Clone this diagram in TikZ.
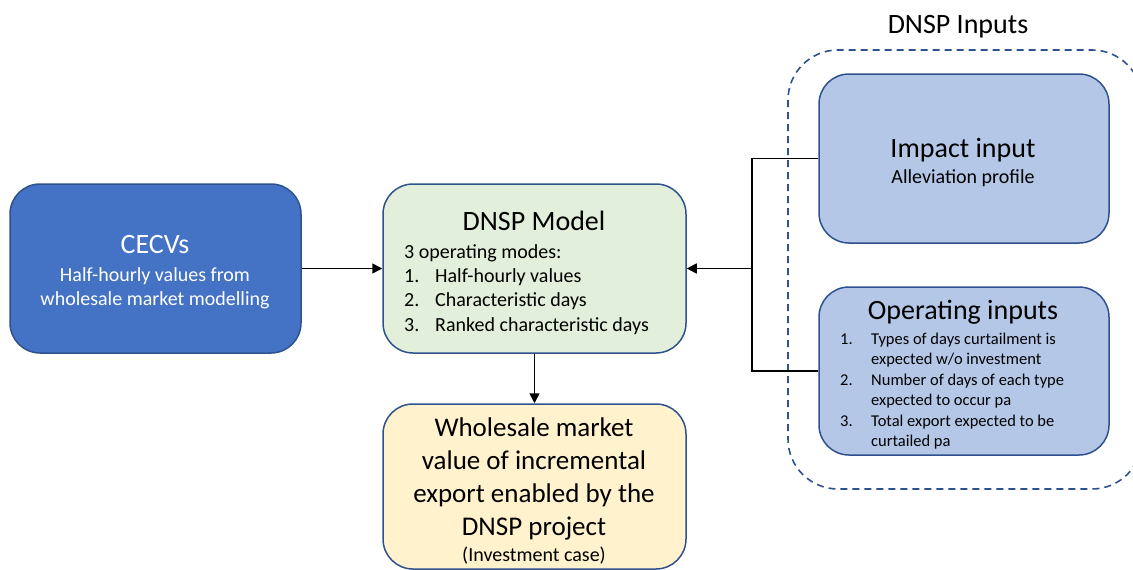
\documentclass[tikz,border=0pt]{standalone}
\usepackage{fontspec}
\setmainfont{Carlito}
\usetikzlibrary{arrows.meta}
\definecolor{bord}{HTML}{2F528F}
\definecolor{cecvfill}{HTML}{4472C4}
\definecolor{greenfill}{HTML}{E2EFDA}
\definecolor{yellowfill}{HTML}{FFF2CC}
\definecolor{lbluefill}{HTML}{B4C7E7}
\begin{document}
\begin{tikzpicture}[x=1pt,y=-1pt,
  box/.style={draw=bord, line width=1.5pt, rounded corners=30pt, inner sep=0pt},
  grp/.style={draw=bord, line width=1.6pt, dash pattern=on 7pt off 5pt, rounded corners=50pt},
  txt/.style={anchor=base, inner sep=0pt},
  ltxt/.style={anchor=base west, inner sep=0pt},
  big/.style={font=\fontsize{28}{34}\selectfont},
  mid/.style={font=\fontsize{20}{24}\selectfont},
  wbig/.style={font=\fontsize{27}{33}\selectfont},
  sml/.style={font=\fontsize{16.5}{20}\selectfont},
  conn/.style={line width=1.7pt, black},
  arr/.style={conn, -{Triangle[length=10pt,width=10pt]}}]
\useasboundingbox (0,0) rectangle (1133,570);

% group
\draw[grp] (788,50) rectangle (1142,489);
\node[txt, big] (grplabel) at (958,33) {DNSP Inputs};

% boxes
\node[box, fill=cecvfill, minimum width=291pt, minimum height=169pt] (cecv) at (155.5,268.5) {};
\node[box, fill=greenfill, minimum width=303pt, minimum height=169pt] (model) at (534.5,268.5) {};
\node[box, fill=yellowfill, minimum width=303pt, minimum height=165pt] (whole) at (534.5,486.5) {};
\node[box, fill=lbluefill, minimum width=290pt, minimum height=169pt] (impact) at (964,158.5) {};
\node[box, fill=lbluefill, minimum width=290pt, minimum height=168pt] (oper) at (964,371) {};

% connectors
\coordinate (j) at (752,268.5);
\draw[arr] (cecv.east) -- (model.west);
\draw[conn] (impact.west) -| (j);
\draw[conn] (oper.west) -| (j);
\draw[arr] (j) -- (model.east);
\draw[arr] (model.south) -- (whole.north);

% CECVs text
\node[txt, big, text=white] (c1) at (155,253) {CECVs};
\node[txt, mid, text=white] (c2) at (155,281) {Half-hourly values from};
\node[txt, mid, text=white] (c3) at (155,305) {wholesale market modelling};

% DNSP Model text
\node[txt, big] (m0) at (534,230) {DNSP Model};
\node[ltxt, mid] (m1) at (404,258) {3 operating modes:};
\node[ltxt, mid] (m2n) at (404,282) {1.};
\node[ltxt, mid] (m2) at (435,282) {Half-hourly values};
\node[ltxt, mid] (m3n) at (404,306.5) {2.};
\node[ltxt, mid] (m3) at (435,306.5) {Characteristic days};
\node[ltxt, mid] (m4n) at (404,331) {3.};
\node[ltxt, mid] (m4) at (435,331) {Ranked characteristic days};

% Wholesale text
\node[txt, wbig] (w1) at (534,436) {Wholesale market};
\node[txt, wbig] (w2) at (534,469.5) {value of incremental};
\node[txt, wbig] (w3) at (534,502) {export enabled by the};
\node[txt, wbig] (w4) at (534,535) {DNSP project};
\node[txt, mid] (w5) at (534,561) {(Investment case)};

% Impact text
\node[txt, big] (i1) at (963,157) {Impact input};
\node[txt, mid] (i2) at (963,183) {Alleviation profile};

% Operating text
\node[txt, big] (o0) at (963,319) {Operating inputs};
\node[ltxt, sml] (o1n) at (840,344) {1.};
\node[ltxt, sml] (o1) at (871,344) {Types of days curtailment is};
\node[ltxt, sml] (o1b) at (871,364.5) {expected w/o investment};
\node[ltxt, sml] (o2n) at (840,385) {2.};
\node[ltxt, sml] (o2) at (871,385) {Number of days of each type};
\node[ltxt, sml] (o2b) at (871,405.5) {expected to occur pa};
\node[ltxt, sml] (o3n) at (840,426) {3.};
\node[ltxt, sml] (o3) at (871,426) {Total export expected to be};
\node[ltxt, sml] (o3b) at (871,446) {curtailed pa};
\end{tikzpicture}
\end{document}
